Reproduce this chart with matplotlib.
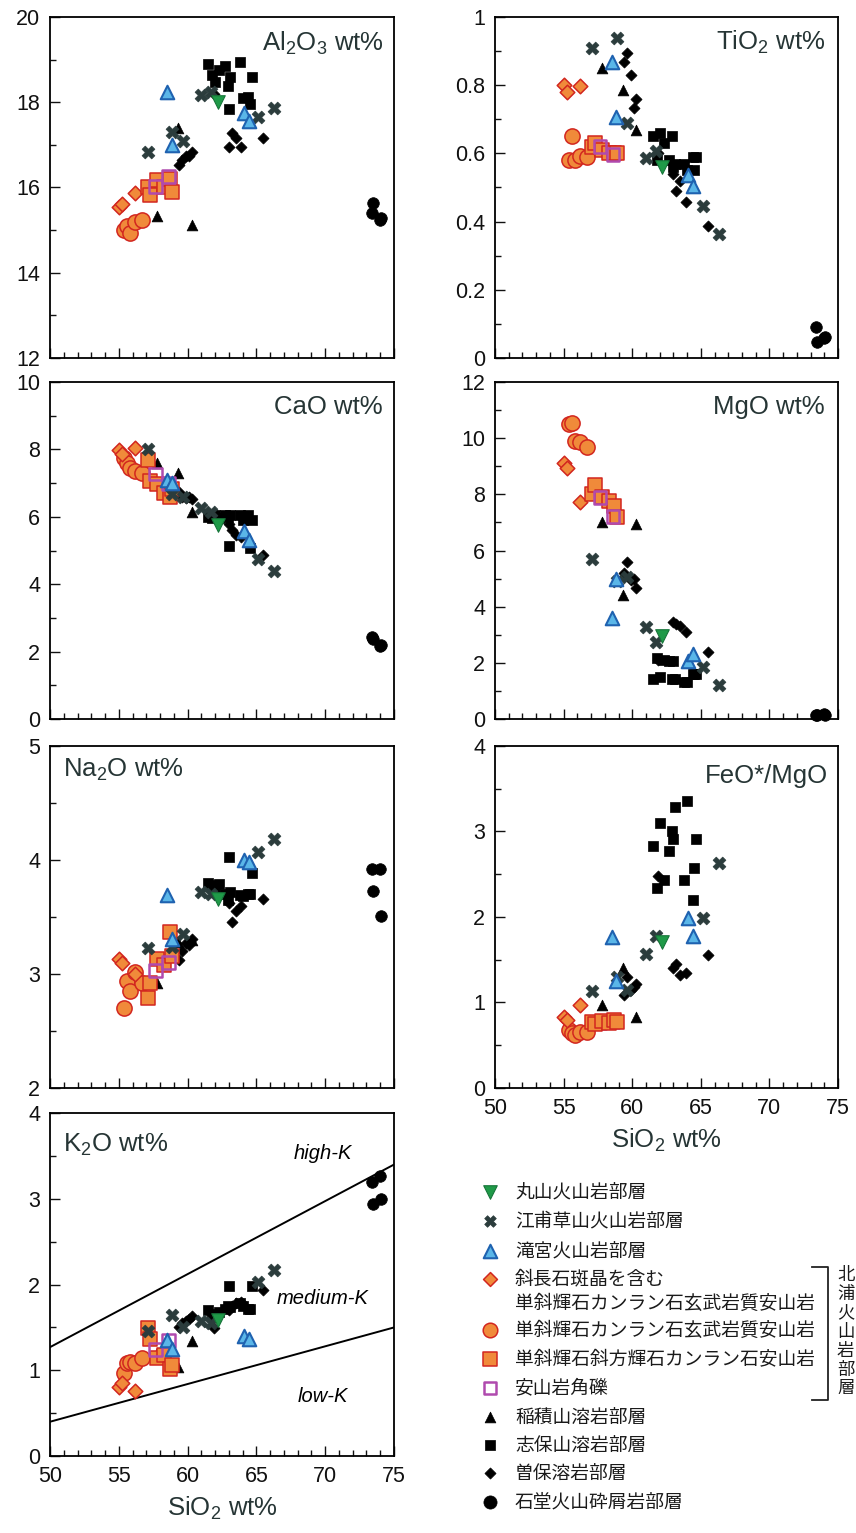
import numpy as np
import matplotlib.pyplot as plt
from matplotlib.ticker import MultipleLocator, FuncFormatter

plt.rcParams['font.family'] = ['Liberation Sans', 'Noto Sans CJK JP', 'DejaVu Sans']
plt.rcParams['mathtext.default'] = 'regular'

nan = np.nan
# columns: SiO2, Al2O3, TiO2, CaO, MgO, Na2O, FeO*/MgO, K2O
maruyama = [
    [62.2, 18.00, 0.560, 5.75, 2.95, 3.66, 1.71, 1.59],
]
ehosou = [
    [57.1, 16.84, 0.910, 8.00, 5.71, 3.23, 1.13, 1.46],
    [58.9, 17.31, 0.937, 6.69, 4.90, 3.24, 1.30, 1.64],
    [59.65, 17.08, 0.689, 6.59, 5.05, 3.35, 1.14, 1.51],
    [61.0, 18.17, 0.587, 6.25, 3.26, 3.72, 1.57, 1.57],
    [61.7, 18.25, 0.606, 6.15, 2.73, 3.70, 1.78, 1.55],
    [65.15, 17.66, 0.447, 4.74, 1.85, 4.07, 1.99, 2.03],
    [66.3, 17.86, 0.365, 4.38, 1.20, 4.18, 2.63, 2.17],
]
takimiya = [
    [58.5, 18.23, 0.869, 7.10, 3.61, 3.69, 1.77, 1.35],
    [58.85, 17.00, 0.708, 7.00, 5.00, 3.31, 1.25, 1.25],
    [64.1, 17.74, 0.538, 5.57, 2.08, 4.00, 1.99, 1.40],
    [64.45, 17.55, 0.504, 5.32, 2.32, 3.98, 1.78, 1.37],
]
plag_ba = [
    [55.0, 15.55, 0.800, 7.98, 9.10, 3.13, 0.83, 0.80],
    [55.25, 15.62, 0.779, 7.85, 8.93, 3.10, 0.80, 0.85],
    [56.2, 15.88, 0.799, 8.05, 7.73, 3.00, 0.97, 0.76],
]
cpx_ol_ba = [
    [55.4, 15.00, 0.580, 7.76, 10.49, 2.70, 0.68, 0.97],
    [55.6, 15.09, 0.650, 7.60, 10.55, 2.94, 0.64, 1.08],
    [55.85, 14.93, 0.580, 7.46, 9.90, 2.85, 0.62, 1.10],
    [56.2, 15.20, 0.592, 7.37, 9.85, 3.02, 0.66, 1.09],
    [56.7, 15.24, 0.590, 7.30, 9.69, 2.92, 0.66, 1.14],
]
cpx_opx_an = [
    [57.1, 16.02, 0.620, 7.70, 8.00, 2.79, 0.77, 1.49],
    [57.3, 15.83, 0.630, 7.07, 8.34, 2.92, 0.75, 1.37],
    [57.8, 16.18, 0.610, 6.97, 7.90, 3.13, 0.78, 1.14],
    [58.3, 16.00, 0.600, 6.70, 7.75, 3.08, 0.76, 1.18],
    [58.7, 16.20, 0.600, 6.59, 7.60, 3.37, 0.80, 1.02],
    [58.9, 15.90, 0.600, 6.83, 7.20, 3.16, 0.77, 1.06],
]
an_breccia = [
    [57.65, 16.02, 0.620, 7.27, 7.90, 3.03, 0.77, 1.24],
    [58.6, 16.26, 0.596, 6.98, 7.22, 3.10, 0.78, 1.35],
]
inazumi = [
    [57.8, 15.32, 0.849, 7.60, 7.02, 2.92, 0.97, 1.20],
    [59.3, 17.39, 0.786, 7.30, 4.40, 3.28, 1.40, 1.04],
    [60.3, 15.12, 0.670, 6.13, 6.96, 3.30, 0.83, 1.34],
]
shiho = [
    [61.5, 18.90, 0.650, 6.00, 1.44, 3.80, 2.83, 1.70],
    [61.8, 18.64, 0.580, 5.95, 2.18, 3.78, 2.34, 1.66],
    [62.0, 18.48, 0.660, 6.05, 1.50, 3.72, 3.10, 1.62],
    [62.3, 18.76, 0.630, 5.95, 2.10, 3.79, 2.43, 1.68],
    [62.7, 18.84, 0.580, 6.05, 2.08, 3.70, 2.77, 1.72],
    [62.9, 18.37, 0.650, 6.00, 1.44, 3.65, 3.01, 1.75],
    [63.0, 17.84, 0.560, 5.13, 2.08, 4.03, 2.91, 1.98],
    [63.1, 18.59, 0.570, 6.05, 1.44, 3.72, 3.29, 1.74],
    [63.8, 18.95, 0.570, 6.05, 1.32, 3.69, 2.43, 1.78],
    [64.0, 18.10, 0.550, 5.90, 1.32, 3.68, 3.36, 1.75],
    [64.4, 18.13, 0.590, 6.05, 1.60, 3.70, 2.20, 1.72],
    [64.5, 17.97, 0.550, 5.08, 1.60, 3.70, 2.57, 1.72],
    [64.65, 18.60, 0.590, 5.91, 1.60, 3.89, 2.91, 1.98],
]
soho = [
    [59.4, 16.53, 0.869, 6.75, 5.20, 3.12, 1.09, 1.50],
    [59.6, 16.65, 0.893, 6.60, 5.58, 3.20, 1.30, 1.55],
    [59.9, 16.73, 0.830, 6.55, 4.96, 3.27, 1.15, 1.58],
    [60.1, 16.75, 0.733, 6.60, 5.00, 3.25, 1.18, 1.60],
    [60.3, 16.84, 0.759, 6.54, 4.65, 3.31, 1.22, 1.63],
    [61.9, 18.20, 0.600, 6.10, 2.10, 3.72, 2.48, 1.49],
    [63.0, 16.96, 0.540, 5.80, 3.45, 3.62, 1.40, 1.70],
    [63.2, 17.27, 0.490, 5.61, 3.40, 3.46, 1.45, 1.75],
    [63.5, 17.16, 0.520, 5.47, 3.32, 3.55, 1.32, 1.78],
    [63.9, 16.96, 0.458, 5.40, 3.08, 3.60, 1.34, 1.80],
    [65.5, 17.16, 0.387, 4.88, 2.38, 3.66, 1.55, 1.94],
]
ishido = [
    [73.4, 15.40, 0.090, 2.42, 0.15, 3.92, nan, 3.20],
    [73.5, 15.63, 0.048, 2.38, 0.14, 3.73, nan, 2.94],
    [74.0, 15.24, 0.058, 2.18, 0.16, 3.92, nan, 3.27],
    [74.05, 15.28, 0.060, 2.20, 0.15, 3.51, nan, 3.00],
]

# K2O classification lines (at SiO2 = 50 and 75)
boundary_sio2 = [50, 75]
high_k_line = [1.27, 3.40]
low_k_line = [0.40, 1.50]

ORANGE = '#f08a3a'
RED = '#d2261f'
# name, data, marker, s, face, edge, lw, zorder, legend size
groups = [
    ('石堂火山砕屑岩部層', ishido, 'o', 70, 'black', 'black', 0.5, 2, 90),
    ('曽保溶岩部層', soho, 'D', 32, 'black', 'black', 0.5, 3, 32),
    ('志保山溶岩部層', shiho, 's', 55, 'black', 'black', 0.5, 3, 50),
    ('稲積山溶岩部層', inazumi, '^', 60, 'black', 'black', 0.5, 4, 60),
    ('単斜輝石カンラン石玄武岩質安山岩', cpx_ol_ba, 'o', 120, ORANGE, RED, 1.1, 5, 110),
    ('斜長石斑晶を含む\n単斜輝石カンラン石玄武岩質安山岩', plag_ba, 'D', 55, ORANGE, RED, 1.1, 5, 50),
    ('単斜輝石斜方輝石カンラン石安山岩', cpx_opx_an, 's', 90, ORANGE, RED, 1.1, 6, 90),
    ('安山岩角礫', an_breccia, 's', 85, 'none', '#b04aae', 1.8, 7, 80),
    ('江甫草山火山岩部層', ehosou, 'X', 85, '#2b3c3c', '#2b3c3c', 0.5, 8, 70),
    ('滝宮火山岩部層', takimiya, '^', 95, '#5ab6e8', '#1f62b0', 1.5, 9, 95),
    ('丸山火山岩部層', maruyama, 'v', 95, '#1f9a48', '#17753a', 0.8, 10, 95),
]

fig = plt.figure(figsize=(8.56, 15.33), dpi=100)

cols = {0: (0.0584, 0.4019), 1: (0.5783, 0.4007)}
rows = {0: (0.7665, 0.2224), 1: (0.5310, 0.2198), 2: (0.2903, 0.2231), 3: (0.0502, 0.2237)}

panels = [
    # row, col, data column, ylim, major, minor, title, title x, title y, ha, xlabels
    (0, 0, 1, (12, 20), 2, 1, r'Al$_2$O$_3$ wt%', 0.971, 0.924, 'right', False),
    (0, 1, 2, (0, 1), 0.2, 0.1, r'TiO$_2$ wt%', 0.962, 0.927, 'right', False),
    (1, 0, 3, (0, 10), 2, 1, 'CaO wt%', 0.968, 0.926, 'right', False),
    (1, 1, 4, (0, 12), 2, 1, 'MgO wt%', 0.962, 0.926, 'right', False),
    (2, 0, 5, (2, 5), 1, 0.5, r'Na$_2$O wt%', 0.038, 0.93, 'left', False),
    (2, 1, 6, (0, 4), 1, 0.5, 'FeO*/MgO', 0.971, 0.912, 'right', True),
    (3, 0, 7, (0, 4), 1, 0.5, r'K$_2$O wt%', 0.038, 0.907, 'left', True),
]

fmt = FuncFormatter(lambda v, p: '%g' % round(v, 3))

for r, c, k, ylim, major, minor, title, tx, ty, ha, xlab in panels:
    ax = fig.add_axes([cols[c][0], rows[r][0], cols[c][1], rows[r][1]])
    for name, data, m, s, fc, ec, lw, z, _ in groups:
        arr = np.array(data, dtype=float)
        # in the FeO*/MgO panel the breccia squares sit under the orange squares
        if k == 6 and data is an_breccia:
            z = 5.5
        ax.scatter(arr[:, 0], arr[:, k], marker=m, s=s, facecolors=fc,
                   edgecolors=ec, linewidths=lw, zorder=z, clip_on=False)
    ax.set_xlim(50, 75)
    ax.set_ylim(*ylim)
    ax.xaxis.set_major_locator(MultipleLocator(5))
    ax.xaxis.set_minor_locator(MultipleLocator(1))
    ax.yaxis.set_major_locator(MultipleLocator(major))
    ax.yaxis.set_minor_locator(MultipleLocator(minor))
    ax.yaxis.set_major_formatter(fmt)
    ax.tick_params(which='both', direction='in', top=False, right=False,
                   labelsize=15.5, pad=7, width=1.0, colors='#111111')
    ax.tick_params(which='major', length=7)
    ax.tick_params(which='minor', length=4)
    if not xlab:
        ax.tick_params(axis='x', labelbottom=False)
    else:
        ax.set_xlabel(r'SiO$_2$ wt%', fontsize=18.5, color='#263535', labelpad=6)
    for sp in ax.spines.values():
        sp.set_linewidth(1.3)
    ax.text(tx, ty, title, transform=ax.transAxes, ha=ha, va='center',
            fontsize=18.5, color='#263535')
    if k == 7:
        ax.plot(boundary_sio2, high_k_line, color='black', lw=1.4, zorder=1)
        ax.plot(boundary_sio2, low_k_line, color='black', lw=1.4, zorder=1)
        ax.text(69.8, 3.53, 'high-K', style='italic', fontsize=14.5, ha='center', va='center')
        ax.text(69.8, 1.84, 'medium-K', style='italic', fontsize=14.5, ha='center', va='center')
        ax.text(69.8, 0.70, 'low-K', style='italic', fontsize=14.5, ha='center', va='center')

# legend, laid out in pixel coordinates
lg = fig.add_axes([0, 0, 1, 1], zorder=-1)
lg.set_xlim(0, 856)
lg.set_ylim(1533, 0)
lg.axis('off')
legend_order = [10, 8, 9, 5, 4, 6, 7, 3, 2, 1, 0]
legend_y = [1192, 1221, 1251, 1279, 1330, 1359, 1388, 1417, 1445, 1473, 1502]
jp = ['Noto Sans CJK JP', 'DejaVu Sans']
for gi, y in zip(legend_order, legend_y):
    name, data, m, s, fc, ec, lw, z, ls = groups[gi]
    lg.scatter([490], [y], marker=m, s=ls, facecolors=fc, edgecolors=ec,
               linewidths=lw, clip_on=False)
    for j, line in enumerate(name.split('\n')):
        lg.text(515, y + j * 24, line, fontsize=13.5, va='center', ha='left',
                family=jp, color='#1a1a1a')
# bracket for the Kitaura subformation
lg.plot([812, 828, 828, 812], [1267, 1267, 1400, 1400], color='#222222', lw=1.3)
for i, ch in enumerate('北浦火山岩部層'):
    lg.text(837, 1275 + i * 18.9, ch, fontsize=12.5, va='center', ha='left',
            family=jp, color='#1a1a1a')

fig.savefig('out.png', dpi=100)
